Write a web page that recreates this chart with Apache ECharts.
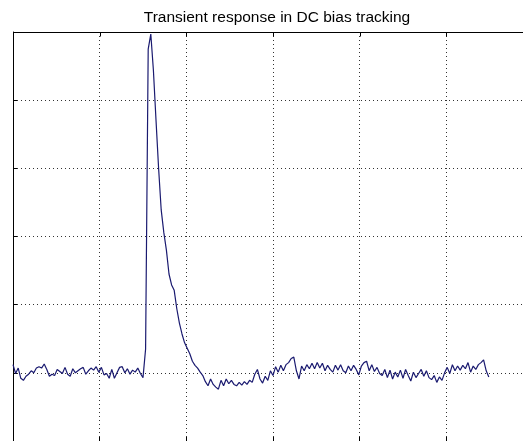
<!DOCTYPE html>
<html>
<head>
<meta charset="utf-8">
<script src="https://cdn.jsdelivr.net/npm/echarts@6/dist/echarts.min.js"></script>
<style>
  html, body { margin: 0; padding: 0; background: #fff; }
  #main { width: 523px; height: 441px; }
</style>
</head>
<body>
<div id="main"></div>
<script>
// sample spacing on the time axis
var step = 3;

// baseline before the step
var preSpike = [
	1.12, 0.99, 1.07, 0.92, 0.89, 0.95, 0.98, 1.03, 1.00, 1.07,
	1.09, 1.07, 1.13, 1.05, 0.95, 0.98, 0.96, 1.05, 1.02, 0.99,
	1.08, 0.98, 0.95, 1.06, 1.00, 1.03, 1.06, 1.08, 0.98, 1.03,
	1.07, 1.04, 1.09, 1.01, 1.08, 0.97, 0.99, 0.92, 1.05, 0.92,
	1.00, 1.08, 1.09, 1.00, 1.06, 0.98, 1.04, 1.01, 1.07, 0.99,
	0.93
];
// spike and decay
var spike = [
	1.35, 5.75, 5.97, 5.44, 4.71, 4.00, 3.39, 3.06, 2.80, 2.45,
	2.29, 2.21, 1.94, 1.73, 1.57, 1.44, 1.36, 1.28, 1.17, 1.11,
	1.07, 1.01
];
// settling after the transient
var postSpike = [
	0.96, 0.87, 0.81, 0.91, 0.83, 0.79, 0.76, 0.89, 0.81, 0.91,
	0.84, 0.89, 0.83, 0.81, 0.86, 0.82, 0.87, 0.83, 0.89, 0.86,
	0.98, 1.05, 0.91, 0.85, 0.95, 0.89, 1.03, 0.96, 1.09, 1.01,
	1.11, 1.03, 1.12, 1.15, 1.21, 1.23, 1.03, 0.91, 1.10, 1.03,
	1.12, 1.06, 1.14, 1.06, 1.15, 1.07, 1.14, 1.03, 1.11, 1.05,
	1.01, 1.11, 1.04, 1.12, 1.03, 1.00, 1.10, 1.03, 1.11, 1.05,
	0.97, 1.10, 1.15, 1.17, 1.03, 1.12, 1.02, 1.08, 0.99, 0.96,
	1.05, 0.93, 1.04, 0.91, 1.01, 0.94, 1.04, 0.92, 1.05, 0.96,
	0.88, 1.01, 0.93, 0.99, 1.05, 0.95, 1.03, 0.93, 0.90, 0.96,
	0.86, 0.94, 0.89, 1.00, 1.08, 0.99, 1.12, 1.03, 1.10, 1.04,
	1.11, 1.06, 1.15, 1.01, 1.10, 1.05, 1.12, 1.15, 1.19, 1.03,
	0.94
];

var xTicks = [0, 100, 200, 300, 400, 500, 600];
var yTicks = [0, 1, 2, 3, 4, 5, 6];

var values = preSpike.concat(spike, postSpike);
var data = [];
for (var i = 0; i < values.length; i++) {
	data.push([i * step, values[i]]);
}
var xMin = xTicks[0], xMax = xTicks[xTicks.length - 1];
var yTop = yTicks[yTicks.length - 1];

function gridDot(){
	return { show: true, lineStyle: { color: '#333', type: [1, 3], width: 1 } };
}
function frameLine(){
	return { show: true, onZero: false, lineStyle: { color: '#000', width: 1 } };
}
function tickIn(){
	return { show: true, inside: true, length: 4, lineStyle: { color: '#000' } };
}

var chart = echarts.init(document.getElementById('main'));
chart.setOption({
	backgroundColor: '#fff',
	animation: false,
	title: {
		text: 'Transient response in DC bias tracking',
		left: 272,
		textAlign: 'center',
		top: 5,
		textStyle: { fontFamily: 'Liberation Sans', fontSize: 15.5, fontWeight: 'normal', color: '#000' }
	},
	grid: {
		left: 13, top: 32, width: 520, height: 409,
		outerBoundsMode: 'none', containLabel: false
	},
	xAxis: {
		type: 'value',
		min: xMin, max: xMax, interval: 100,
		axisLine: frameLine(), axisTick: tickIn(), axisLabel: { show: false }, splitLine: gridDot()
	},
	yAxis: {
		type: 'value',
		min: yTicks[0], max: yTop, interval: 1,
		axisLine: frameLine(), axisTick: tickIn(), axisLabel: { show: false }, splitLine: gridDot()
	},
	series: [{
		type: 'line',
		data: data,
		showSymbol: false,
		lineStyle: { color: '#1a1a70', width: 1.2 }
	}]
});

// top edge of the box and its inward ticks, placed through the chart's own scales
var a = chart.convertToPixel({ gridIndex: 0 }, [xMin, yTop]);
var b = chart.convertToPixel({ gridIndex: 0 }, [xMax, yTop]);
var topY = Math.round(a[1]) + 0.5;
var frame = [{
	type: 'line', silent: true, z: 100,
	shape: { x1: a[0], y1: topY, x2: b[0], y2: topY },
	style: { stroke: '#000', lineWidth: 1 }
}];
xTicks.forEach(function(t){
	var p = chart.convertToPixel({ gridIndex: 0 }, [t, yTop]);
	var px = Math.round(p[0]) + 0.5;
	frame.push({
		type: 'line', silent: true, z: 100,
		shape: { x1: px, y1: topY, x2: px, y2: topY + 4 },
		style: { stroke: '#000', lineWidth: 1 }
	});
});
chart.setOption({ graphic: frame });
</script>
</body>
</html>
